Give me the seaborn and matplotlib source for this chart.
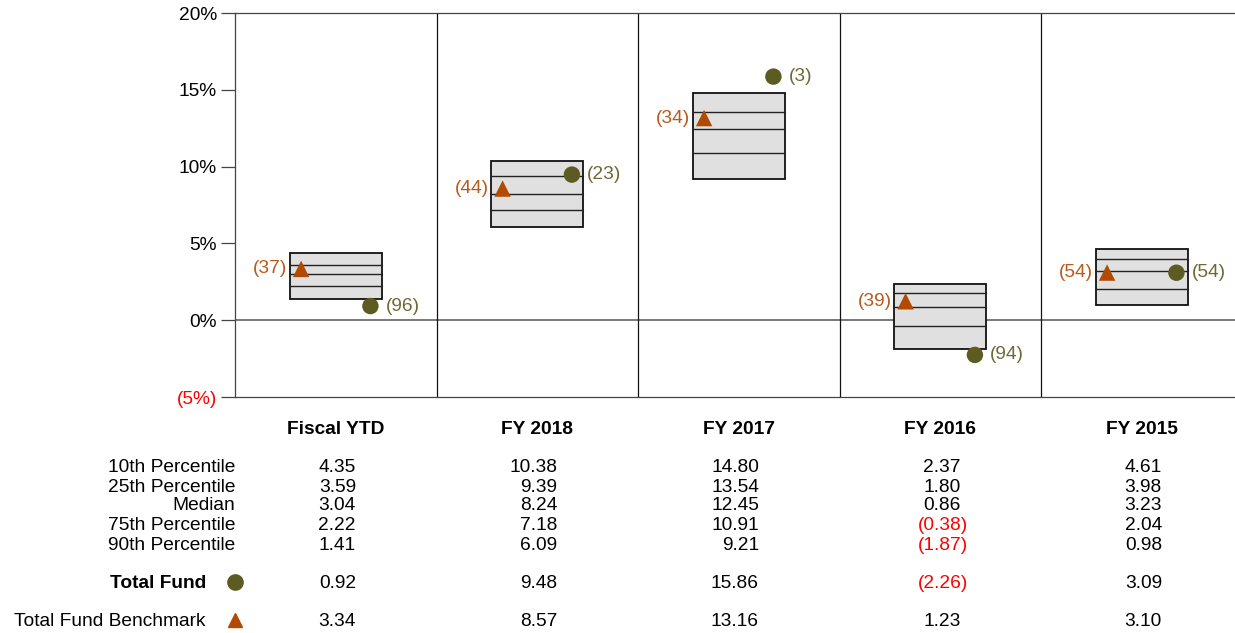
import matplotlib.pyplot as plt
import matplotlib.transforms as mtransforms
import seaborn as sns
import pandas as pd

# Data
periods = ['Fiscal YTD', 'FY 2018', 'FY 2017', 'FY 2016', 'FY 2015']
p10 = [4.35, 10.38, 14.80, 2.37, 4.61]
p25 = [3.59, 9.39, 13.54, 1.80, 3.98]
median = [3.04, 8.24, 12.45, 0.86, 3.23]
p75 = [2.22, 7.18, 10.91, -0.38, 2.04]
p90 = [1.41, 6.09, 9.21, -1.87, 0.98]
fund = [0.92, 9.48, 15.86, -2.26, 3.09]
fund_rank = [96, 23, 3, 94, 54]
bench = [3.34, 8.57, 13.16, 1.23, 3.10]
bench_rank = [37, 44, 34, 39, 54]
y_ticks = [-5, 0, 5, 10, 15, 20]

fund_color = '#5c5b22'
bench_color = '#b34a04'
fund_text = '#6b6a35'
bench_text = '#b85a1e'
box_w = 0.455
pt_off = 0.172

sns.set_style('white')
plt.rcParams['font.family'] = ['Liberation Sans', 'DejaVu Sans']
plt.rcParams['text.color'] = 'black'
plt.rcParams['ytick.color'] = 'black'
FS = 13.8

fig = plt.figure(figsize=(12.35, 6.33), dpi=100)
# five columns of ~201.5 px; the last one runs a little past the figure edge
ax = fig.add_axes([235 / 1235, (633 - 397) / 633, 1007.5 / 1235, 384 / 633])

x = list(range(len(periods)))
pts = pd.DataFrame({
    'x': [i + pt_off for i in x] + [i - pt_off for i in x],
    'y': fund + bench,
    'series': ['Total Fund'] * 5 + ['Total Fund Benchmark'] * 5,
})

# percentile boxes
ax.bar(x, [a - b for a, b in zip(p10, p90)], bottom=p90, width=box_w,
       color='#e0e0e0', edgecolor='#111111', linewidth=1.3, zorder=2)
for i in x:
    for v in (p25[i], median[i], p75[i]):
        ax.plot([i - box_w / 2, i + box_w / 2], [v, v], color='#222222', lw=1.0, zorder=3)

ax.axhline(0, color='#555555', lw=1.1, zorder=1)
for d in [0.5, 1.5, 2.5, 3.5]:
    ax.axvline(d, color='#111111', lw=0.9, zorder=1)

sns.scatterplot(data=pts, x='x', y='y', hue='series', style='series',
                markers={'Total Fund': 'o', 'Total Fund Benchmark': '^'},
                palette={'Total Fund': fund_color, 'Total Fund Benchmark': bench_color},
                s=140, edgecolor='none', legend=False, ax=ax, zorder=4)

for i in x:
    ax.annotate(f'({fund_rank[i]})', (i + pt_off, fund[i]), xytext=(11, 0),
                textcoords='offset points', ha='left', va='center',
                color=fund_text, fontsize=FS)
    ax.annotate(f'({bench_rank[i]})', (i - pt_off, bench[i]), xytext=(-10, 0),
                textcoords='offset points', ha='right', va='center',
                color=bench_text, fontsize=FS)

ax.set_xlim(-0.5, 4.5)
ax.set_ylim(-5, 20)
ax.set_yticks(y_ticks)
ax.set_yticklabels([f'({abs(t)}%)' if t < 0 else f'{t}%' for t in y_ticks], fontsize=FS)
ax.get_yticklabels()[0].set_color('red')
ax.set_xticks([])
ax.set_xlabel('')
ax.set_ylabel('')
ax.tick_params(axis='y', length=10, width=0.9, color='#444444', pad=3, left=True)
for s in ['left', 'top', 'bottom']:
    ax.spines[s].set_visible(True)
    ax.spines[s].set_color('#444444')
    ax.spines[s].set_linewidth(0.9)
ax.spines['right'].set_visible(False)

# table below the chart
tr = mtransforms.blended_transform_factory(ax.transData, fig.transFigure)


def fy(py):
    return 1 - py / 633


def val_text(i, v, py):
    if v < 0:
        ax.text(i + 0.14, fy(py), f'({abs(v):.2f})', transform=tr, ha='right',
                va='center', fontsize=FS, color='red')
    else:
        ax.text(i + 0.1, fy(py), f'{v:.2f}', transform=tr, ha='right',
                va='center', fontsize=FS)


for i in x:
    ax.text(i, fy(429), periods[i], transform=tr, ha='center', va='center',
            fontsize=FS, fontweight='bold', clip_on=False)

rows = [('10th Percentile', p10, 467), ('25th Percentile', p25, 486),
        ('Median', median, 505), ('75th Percentile', p75, 524),
        ('90th Percentile', p90, 544)]
for label, vals, py in rows:
    ax.text(-0.5, fy(py + 1), label, transform=tr, ha='right', va='center', fontsize=FS)
    for i in x:
        val_text(i, vals[i], py + 1)

for label, vals, py, mk, col, bold in [('Total Fund', fund, 582, 'o', fund_color, True),
                                       ('Total Fund Benchmark', bench, 620, '^', bench_color, False)]:
    ax.text(-0.645, fy(py + 1), label, transform=tr, ha='right', va='center', fontsize=FS,
            fontweight='bold' if bold else 'normal')
    ax.plot([-0.5], [fy(py)], marker=mk, color=col, markersize=11 if mk == 'o' else 10,
            transform=tr, clip_on=False, linestyle='none')
    for i in x:
        val_text(i, vals[i], py + 1)

fig.savefig('out.png', dpi=100)
